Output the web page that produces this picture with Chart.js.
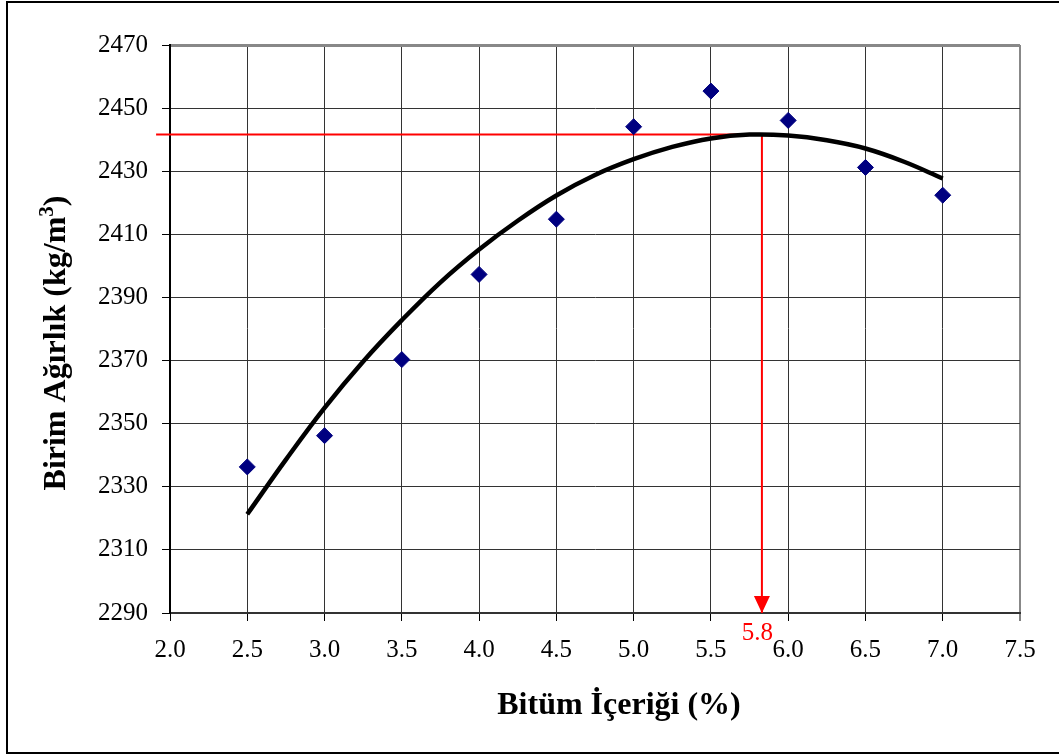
<!DOCTYPE html>
<html>
<head>
<meta charset="utf-8">
<script src="https://cdn.jsdelivr.net/npm/chart.js@4.4.1/dist/chart.umd.min.js"></script>
<style>
  html, body { margin: 0; padding: 0; background: #fff; }
  #wrap { width: 1059px; height: 755px; position: relative; }
</style>
</head>
<body>
<div id="wrap"><canvas id="chart"></canvas></div>
<script>
// measured points (bitumen % vs unit weight)
const bitumen = [2.5, 3.0, 3.5, 4.0, 4.5, 5.0, 5.5, 6.0, 6.5, 7.0];
const unitWeight = [2336.3, 2346.2, 2370.3, 2397.3, 2414.8, 2444.1, 2455.4, 2446.1, 2431.2, 2422.4];

// trend curve
const trendX = [2.5, 2.75, 3.0, 3.25, 3.5, 3.75, 4.0, 4.25, 4.5, 4.75, 5.0, 5.25, 5.5, 5.75, 6.0, 6.25, 6.5, 6.75, 7.0];
const trendY = [2321.3, 2338.6, 2355.0, 2369.7, 2382.8, 2394.8, 2405.2, 2414.3, 2422.3, 2428.8, 2433.8, 2437.7, 2440.4, 2441.6, 2441.3, 2439.8, 2437.2, 2433.0, 2427.7];

// optimum bitumen content marker
const optimumX = 5.83;
const optimumY = 2441.6;
const optimumLabel = "5.8";
const refLineStartX = 1.91;

const xTicks = { min: 2.0, max: 7.5, step: 0.5 };
const yTicks = { min: 2290, max: 2470, step: 20 };

const xTitle = "Bitüm İçeriği (%)";
const yTitle = ["Birim Ağırlık (kg/m", "3", ")"];

const serif = "'Liberation Serif', 'Times New Roman', serif";

const frame = {
  id: "frame",
  afterDraw(chart) {
    const c = chart.ctx;
    c.save();
    c.strokeStyle = "#000";
    c.lineWidth = 2;
    c.strokeRect(7, 2, 1060, 751);
    c.restore();
  }
};

// axis titles drawn by hand, Excel puts them a bit off-centre
const titles = {
  id: "titles",
  afterDraw(chart) {
    const c = chart.ctx;
    c.save();
    c.fillStyle = "#000";
    c.font = "bold 32px " + serif;
    c.textBaseline = "alphabetic";
    c.textAlign = "center";
    c.fillText(xTitle, 619, 714);

    // y title, rotated, with real superscript
    const big = "bold 32px " + serif, small = "bold 21px " + serif;
    c.font = big;
    const w1 = c.measureText(yTitle[0]).width, w3 = c.measureText(yTitle[2]).width;
    c.font = small;
    const w2 = c.measureText(yTitle[1]).width;
    const total = w1 + w2 + w3;
    c.translate(65, 343);
    c.rotate(-Math.PI / 2);
    c.textAlign = "left";
    let x0 = -total / 2;
    c.font = big;
    c.fillText(yTitle[0], x0, 0);
    c.font = small;
    c.fillText(yTitle[1], x0 + w1, -12);
    c.font = big;
    c.fillText(yTitle[2], x0 + w1 + w2, 0);
    c.restore();
  }
};

const optimumMark = {
  id: "optimumMark",
  afterDatasetsDraw(chart) {
    const { ctx: c, scales: { x, y } } = chart;
    const px = x.getPixelForValue(optimumX);
    const tip = y.getPixelForValue(yTicks.min);
    c.save();
    c.fillStyle = "#ff0000";
    c.beginPath();
    c.moveTo(px, tip);
    c.lineTo(px - 8, tip - 17);
    c.lineTo(px + 8, tip - 17);
    c.closePath();
    c.fill();
    c.font = "25px " + serif;
    c.textAlign = "center";
    c.textBaseline = "middle";
    c.fillText(optimumLabel, x.getPixelForValue(parseFloat(optimumLabel)), tip + 20);
    c.restore();
  }
};

new Chart(document.getElementById("chart"), {
  type: "scatter",
  data: {
    datasets: [
      {
        label: "Ölçülen",
        data: bitumen.map((b, i) => ({ x: b, y: unitWeight[i] })),
        pointStyle: "rectRot",
        pointRadius: 8,
        pointHoverRadius: 8,
        backgroundColor: "#000080",
        borderColor: "#000080",
        borderWidth: 1
      },
      {
        label: "Eğri",
        data: trendX.map((b, i) => ({ x: b, y: trendY[i] })),
        showLine: true,
        tension: 0.4,
        pointRadius: 0,
        borderColor: "#000",
        borderWidth: 4.5,
        borderCapStyle: "butt"
      },
      {
        label: "Optimum",
        data: [
          { x: refLineStartX, y: optimumY },
          { x: optimumX, y: optimumY },
          { x: optimumX, y: yTicks.min }
        ],
        showLine: true,
        tension: 0,
        pointRadius: 0,
        borderColor: "#ff0000",
        borderWidth: 2,
        clip: false
      }
    ]
  },
  options: {
    responsive: true,
    maintainAspectRatio: false,
    animation: false,
    layout: { padding: { left: 0, top: 45, right: 39, bottom: 0 } },
    plugins: {
      legend: { display: false },
      tooltip: { enabled: false }
    },
    scales: {
      x: {
        min: xTicks.min,
        max: xTicks.max,
        afterFit: s => { s.height = 142; },
        ticks: {
          stepSize: xTicks.step,
          padding: 14,
          color: "#000",
          font: { family: serif, size: 25 },
          maxRotation: 0,
          callback: v => Number(v).toFixed(1)
        },
        grid: {
          color: c => c.tick && c.tick.value === xTicks.max ? "#888" : "#333",
          lineWidth: c => c.tick && c.tick.value === xTicks.max ? 2 : 1,
          tickColor: "#000",
          tickLength: 8,
          tickWidth: 1
        },
        border: { color: "#333", width: 2 }
      },
      y: {
        min: yTicks.min,
        max: yTicks.max,
        afterFit: s => { s.width = 170; },
        ticks: {
          stepSize: yTicks.step,
          padding: 14,
          color: "#000",
          font: { family: serif, size: 25 },
          callback: v => String(v)
        },
        grid: {
          color: c => c.tick && c.tick.value === yTicks.max ? "#888" : "#333",
          lineWidth: c => c.tick && c.tick.value === yTicks.max ? 3 : 1,
          tickColor: "#000",
          tickLength: 8,
          tickWidth: 1
        },
        border: { color: "#000", width: 2 }
      }
    }
  },
  plugins: [frame, titles, optimumMark]
});
</script>
</body>
</html>
